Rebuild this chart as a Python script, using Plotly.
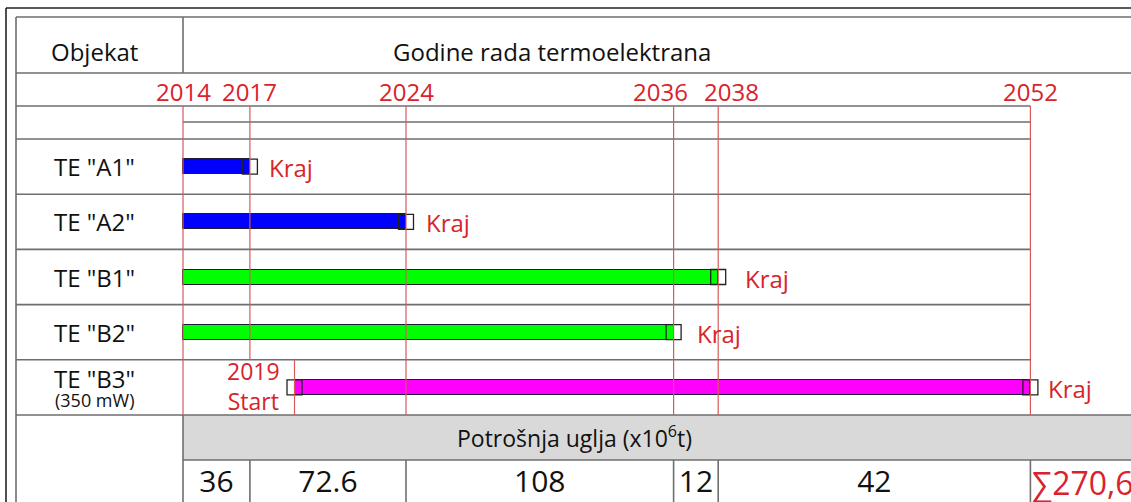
import plotly.graph_objects as go

# ---------------- data ----------------
objects = ['TE "A1"', 'TE "A2"', 'TE "B1"', 'TE "B2"', 'TE "B3"']
object_notes = ["", "", "", "", "(350 mW)"]
start_years = [2014, 2014, 2014, 2014, 2019]
end_years = [2017, 2024, 2038, 2036, 2052]
milestone_years = [2014, 2017, 2024, 2036, 2038, 2052]
period_starts = [2014, 2017, 2024, 2036, 2038]
period_ends = [2017, 2024, 2036, 2038, 2052]
consumption = [36, 72.6, 108, 12, 42]

# ---------------- styles / layout geometry ----------------
bar_colors = ["#0000FF", "#0000FF", "#00FF00", "#00FF00", "#FF00FF"]
kraj_shift = [17, 18, 25, 21, 16]
label_shift = {2036: -13, 2038: 13}
RED = "#D9232B"
REDLINE = "#D65A5A"
GRID = "#6E6E6E"
TXT = "#111111"
FONT = "Open Sans"

W, H = 1131, 502
FRAME_X, FRAME_Y = 6, 8
TAB_L, TAB_T = 16, 17
HEAD_B, YEARS_B, SUB_B, ROWS_T = 73, 106, 122, 139
ROW_H = 55.2
BAND_T, BAND_B = 415, 460
X0_PX, PX_PER_YEAR, X0_YEAR = 183, 22.3, 2014

x_min = X0_YEAR - X0_PX / PX_PER_YEAR
x_max = X0_YEAR + (W - X0_PX) / PX_PER_YEAR


def px(xpix):
    return xpix / W


def px_year(xpix):
    return x_min + xpix / W * (x_max - x_min)


row_c = [ROWS_T + (i + 0.5) * ROW_H for i in range(len(objects))]
first_year, last_year = milestone_years[0], milestone_years[-1]

shapes = []


def hline(y, x0, x1, xref="x", color=GRID, width=1.6):
    shapes.append(dict(type="line", xref=xref, yref="y", x0=x0, x1=x1, y0=y, y1=y,
                       line=dict(color=color, width=width)))


def vline(x, y0, y1, xref="x", color=GRID, width=1.6):
    shapes.append(dict(type="line", xref=xref, yref="y", x0=x, x1=x, y0=y0, y1=y1,
                       line=dict(color=color, width=width)))


# gray band
shapes.append(dict(type="rect", xref="x", yref="y", x0=first_year, x1=x_max, y0=BAND_T, y1=BAND_B,
                   fillcolor="#D9D9D9", line=dict(width=0), layer="below"))

# outer frame
hline(FRAME_Y, px(FRAME_X), 1, xref="paper", color="#222", width=1.6)
vline(px(FRAME_X), FRAME_Y, H, xref="paper", color="#222", width=1.6)
# table outer
hline(TAB_T, px(TAB_L), 1, xref="paper")
vline(px(TAB_L), TAB_T, H, xref="paper")
hline(HEAD_B, px(TAB_L), 1, xref="paper")
vline(first_year, TAB_T, HEAD_B)
# year grid region
hline(YEARS_B, px_year(TAB_L), last_year)
hline(SUB_B, first_year, last_year)
hline(ROWS_T, px_year(TAB_L), last_year)
for k in range(1, len(objects)):
    hline(ROWS_T + k * ROW_H, px_year(TAB_L), last_year)
hline(BAND_T, px(TAB_L), 1, xref="paper")
hline(BAND_B, first_year, x_max)
vline(first_year, BAND_T, H)
for yr in period_ends:
    vline(yr, BAND_B, H)

# red milestone lines
b3_start = start_years[-1]
b3_top = ROWS_T + (len(objects) - 1) * ROW_H
for yr in milestone_years:
    y1 = b3_top if first_year < yr < b3_start else BAND_T
    vline(yr, YEARS_B, y1, color=REDLINE, width=1.2)
vline(b3_start, b3_top, BAND_T, color=REDLINE, width=1.2)

fig = go.Figure()

# bars
fig.add_trace(go.Bar(
    orientation="h",
    base=start_years,
    x=[e - s for s, e in zip(start_years, end_years)],
    y=row_c,
    width=15,
    marker=dict(color=bar_colors, line=dict(color="#1A1A3A", width=1)),
    hoverinfo="skip", showlegend=False,
))

# end / start squares
sq_x = end_years + [b3_start]
sq_y = row_c + [row_c[-1]]
fig.add_trace(go.Scatter(
    x=sq_x, y=sq_y, mode="markers",
    marker=dict(symbol="square-open", size=15, color="#222", line=dict(width=1.3)),
    hoverinfo="skip", showlegend=False,
))

# consumption numbers
fig.add_trace(go.Scatter(
    x=[(a + b) / 2 for a, b in zip(period_starts, period_ends)],
    y=[484] * len(consumption),
    mode="text",
    text=[f"{v:g}" for v in consumption],
    textfont=dict(family=FONT, size=30, color=TXT),
    textposition="middle center",
    hoverinfo="skip", showlegend=False,
))

ann = []
# header texts
ann.append(dict(x=px(95), y=51, xref="paper", yref="y", xanchor="center", text="Objekat",
                showarrow=False, font=dict(family=FONT, size=24, color=TXT)))
ann.append(dict(x=px(552), y=51, xref="paper", yref="y", xanchor="center",
                text="Godine rada termoelektrana",
                showarrow=False, font=dict(family=FONT, size=24, color=TXT)))
# year labels
for yr in milestone_years:
    ann.append(dict(x=yr, y=91, xref="x", yref="y", xanchor="center", text=str(yr), showarrow=False,
                    xshift=label_shift.get(yr, 0), font=dict(family=FONT, size=24, color=RED)))
# row labels + Kraj
for i, name in enumerate(objects):
    if object_notes[i]:
        ann.append(dict(x=px(95), y=row_c[i] - 9, xref="paper", yref="y", xanchor="center", text=name,
                        showarrow=False, font=dict(family=FONT, size=24, color=TXT)))
        ann.append(dict(x=px(95), y=row_c[i] + 13, xref="paper", yref="y", xanchor="center",
                        text=object_notes[i],
                        showarrow=False, font=dict(family=FONT, size=18, color=TXT)))
    else:
        ann.append(dict(x=px(95), y=row_c[i], xref="paper", yref="y", xanchor="center", text=name,
                        showarrow=False, font=dict(family=FONT, size=24, color=TXT)))
    ann.append(dict(x=end_years[i], y=row_c[i] + 1, xref="x", yref="y", text="Kraj", showarrow=False,
                    xanchor="left", xshift=kraj_shift[i], font=dict(family=FONT, size=24, color=RED)))
# 2019 Start
ann.append(dict(x=b3_start, y=row_c[-1] - 1, xref="x", yref="y", text=f"{b3_start}<br>Start",
                showarrow=False, xanchor="right", xshift=-13, align="center",
                font=dict(family=FONT, size=23, color=RED)))
# band title
ann.append(dict(x=px(574), y=437, xref="paper", yref="y", xanchor="center",
                text="Potrošnja uglja (x10<sup>6</sup>t)", showarrow=False,
                font=dict(family=FONT, size=23, color=TXT)))
# total
total = sum(consumption)
ann.append(dict(x=last_year, y=482, xref="x", yref="y", xanchor="left", xshift=0,
                text="∑" + f"{total:.1f}".replace(".", ","), showarrow=False,
                font=dict(family=FONT, size=32, color=RED)))

fig.update_layout(
    width=W, height=H, autosize=False,
    margin=dict(l=0, r=0, t=0, b=0, pad=0),
    paper_bgcolor="white", plot_bgcolor="white",
    xaxis=dict(range=[x_min, x_max], visible=False, fixedrange=True),
    yaxis=dict(range=[H, 0], visible=False, fixedrange=True),
    shapes=shapes, annotations=ann, bargap=0,
)

fig.write_html(
    "out.html",
    config={"displayModeBar": False},
    post_script="document.body.style.margin='0px';document.body.style.overflow='hidden';",
)
